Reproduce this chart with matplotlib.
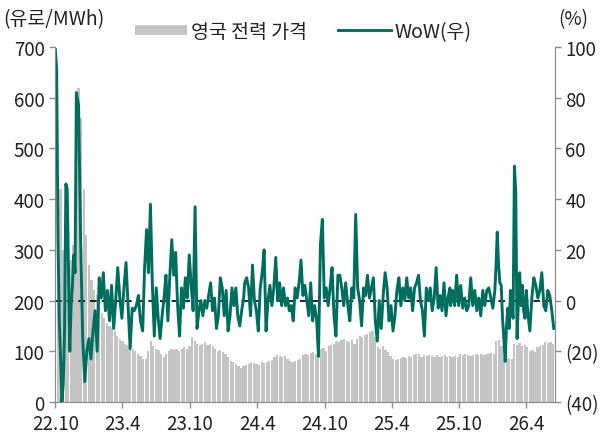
import pandas as pd
import matplotlib
matplotlib.use("Agg")
import matplotlib.pyplot as plt
from matplotlib.lines import Line2D

plt.rcParams['font.family'] = ['Noto Sans CJK KR', 'DejaVu Sans']

GREY = "#c4c4c4"
TEAL = "#006e5f"
TXT = "#222222"
AXC = "#8c8c8c"

# weekly UK power price (EUR/MWh), from 2022-10-01
price = [420, 440, 420, 300, 290, 320, 280, 310, 420, 620,
         560, 420, 330, 270, 240, 220, 210, 190, 175, 165,
         155, 150, 145, 140, 130, 125, 120, 115, 112, 108,
         105, 100, 95, 90, 85, 85, 100, 120, 110, 105,
         102, 95, 88, 95, 100, 105, 102, 105, 100, 105,
         108, 105, 110, 128, 120, 115, 112, 115, 118, 112,
         115, 110, 105, 100, 102, 98, 95, 88, 80, 78,
         75, 70, 68, 70, 72, 75, 78, 76, 74, 72,
         78, 76, 78, 80, 82, 88, 92, 90, 88, 90,
         85, 80, 78, 80, 82, 85, 92, 95, 92, 96,
         98, 95, 100, 104, 106, 100, 110, 112, 115, 120,
         118, 122, 125, 120, 118, 122, 115, 125, 130, 128,
         132, 135, 138, 140, 128, 108, 105, 110, 102, 98,
         90, 85, 82, 85, 86, 88, 86, 90, 88, 92,
         95, 94, 88, 92, 90, 92, 90, 89, 92, 88,
         90, 92, 88, 90, 88, 90, 88, 94, 92, 94,
         92, 90, 92, 94, 92, 94, 92, 95, 94, 96,
         95, 120, 122, 110, 85, 84, 86, 85, 115, 112,
         116, 110, 112, 108, 100, 102, 98, 108, 110, 112,
         118, 116, 118, 115]

# WoW (%) read in stretches: (start, end, values)
wow_a = [99, 91, 24, -8, -23, -40, -33, -12, 46, 44, 11, -20, -2, 6, 18, 11, 82]
wow_b = [77, 24, -15, -32, -20, -15, -23, -12, -4, -20, 9, 1, 11, -4, 4, -8,
         6, -11, 0, 13, 1, -7, 5, 15, -2, -19, -3, -4, -2, 2, -8]
wow_c = [-12, 13, 28, 11, 38, 6, -14, 5, -7, -15, -6, 1, 10, -8, 10, 24, 10,
         19, -2, -14, 5, -3, 9, 1, 18, 6, -4, 37, -11, -4, 0, -6, 0, -3, 2, 7,
         -4, 1, -11, -6, 9, 5, -6, 4, -12, -6, 5, -2, 5, -6, -10, -4, 1]
wow_d = [7, 9, 5, -6, 14, 0, -4, -12, 5, 11, 20, -12, 0, 6, -2, 5, 17, 0, 7,
         -2, 5, -2, 1, -4, -2, -8, 5, 1, 7, 16, 2, 6, 0, -6, 7, -8, -2, -7,
         -22, 22, 32, 1, 5, -2, 5, 13, -6, -14, 10, 10, 5, -2, 7]
wow_e = [-2, -8, 5, 1, 34, 5, 0, -10, 5, 2, 10, 1, 5, 9, -8, -16, 0, -11, 2,
         11, 5, -8, -2, -12, -6, 4, 9, -2, 5, 0, 9, 1, 5, -4, 5, 7, 10, 0, -4,
         -14, 5, 0, 5, -4, 1, 13, -3, 2, -4, 7, -6, 1, 5]
wow_f = [-2, 4, -2, 10, -2, 6, -3, 1, -4, -2, 9, -2, 4, -4, 1, -6, 4, -2, 4,
         5, 1, -3, 4]
wow_g = [13, 27, 14, 7, 6, -7, -15, -24, -10, -3, -11, 4, -3, -7, 53, 43,
         -15, 0, 11, -2, 6, -4, -7, 4, -4]
wow_h = [-12, 1, 9, 6, 1, 4, 11, -2, -4, 4, 2, -4, -11]

wow_parts = [("2022-10-01", "2022-11-27", wow_a),
             ("2022-12-03", "2023-05-20", wow_b),
             ("2023-05-26", "2024-02-24", wow_c),
             ("2024-02-27", "2024-11-27", wow_d),
             ("2024-12-03", "2025-09-06", wow_e),
             ("2025-09-08", "2026-01-06", wow_f),
             ("2026-01-09", "2026-04-05", wow_g),
             ("2026-04-11", "2026-06-15", wow_h)]

tick_dates = ["2022-10-01", "2023-04-01", "2023-10-01", "2024-04-01",
              "2024-10-01", "2025-04-01", "2025-10-01", "2026-04-01"]
tick_labels = ["22.10", "23.4", "23.10", "24.4", "24.10", "25.4", "25.10", "26.4"]

price_dates = pd.date_range("2022-10-01", periods=len(price), freq="7D")
wow_dates = []
wow = []
for start, end, vals in wow_parts:
    wow_dates.extend(pd.date_range(start, end, periods=len(vals)))
    wow.extend(vals)

fig = plt.figure(figsize=(6.03, 4.35), dpi=100)
ax = fig.add_axes([0.0912, 0.0736, 0.829, 0.816])
ax.bar(price_dates, price, width=6, color=GREY, linewidth=0)
ax.set_ylim(0, 700)
ax.set_yticks(range(0, 701, 100))
ax.set_xlim(pd.Timestamp("2022-09-30"), pd.Timestamp("2026-06-18"))
ax.set_xticks(pd.to_datetime(tick_dates))
ax.set_xticklabels(tick_labels)

ax2 = ax.twinx()
ax2.axhline(0, color="black", ls=(0, (4, 3)), lw=1.2)
ax2.plot(wow_dates, wow, color=TEAL, lw=2.1)
ax2.set_ylim(-40, 100)
ax2.set_yticks(range(-40, 101, 20))
ax2.set_yticklabels([f"({-v})" if v < 0 else str(v) for v in range(-40, 101, 20)])

for a in (ax, ax2):
    for s in a.spines.values():
        s.set_color(AXC)
    a.spines["top"].set_visible(False)
    a.tick_params(colors=AXC, labelcolor=TXT, labelsize=13.5, length=4, width=1)
ax.tick_params(axis="x", pad=4)

handles = [Line2D([], [], color=GREY, lw=7, solid_capstyle="butt"),
           Line2D([], [], color=TEAL, lw=2.1)]
fig.legend(handles, ["영국 전력 가격", "WoW(우)"], loc="center",
           bbox_to_anchor=(0.503, 0.925), ncol=2, frameon=False,
           fontsize=14, handlelength=2.7, handletextpad=0.2,
           columnspacing=1.6, labelcolor=TXT)

fig.text(0.005, 0.955, "(유로/MWh)", fontsize=14, color=TXT, va="center")
fig.text(0.925, 0.955, "(%)", fontsize=13.5, color=TXT, va="center")

fig.savefig("out.png", dpi=100)
